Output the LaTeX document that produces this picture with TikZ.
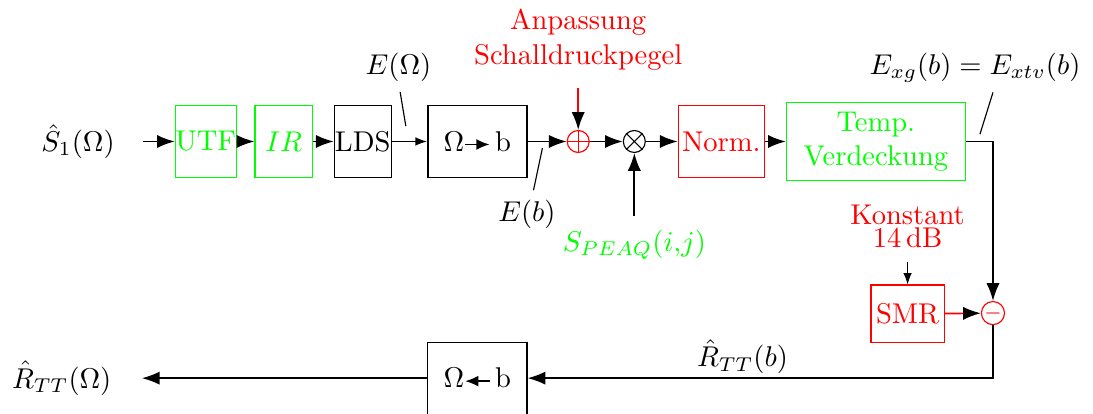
\documentclass[tikz,border=0pt]{standalone}
\usepackage{amsmath,amssymb}
\usetikzlibrary{positioning,calc,arrows.meta}

\newcommand{\fwdarrow}{\tikz[baseline=-0.55ex]\draw[-{Latex[length=4.6pt,width=3.8pt]}, semithick] (0,0) -- (0.3,0);}
\newcommand{\bwdarrow}{\tikz[baseline=-0.55ex]\draw[{Latex[length=4.6pt,width=3.8pt]}-, semithick] (0,0) -- (0.3,0);}

\begin{document}
\begin{tikzpicture}[
    blk/.style={draw, minimum height=0.886cm, align=center},
    gblk/.style={blk, green, text=green},
    rblk/.style={blk, red, text=red},
    sum/.style={draw, circle, minimum size=0.27cm, inner sep=0pt},
    arr/.style={semithick, -{Latex[color=black, length=6.2pt, width=4.6pt]}},
    sarr/.style={-{Latex[color=black, length=4pt, width=3pt]}},
    pinline/.style={thin}
]
    \useasboundingbox (0,0) rectangle (13.44,5.09);

    % Forward path
    \node (s1) at (0.96,3.35) {$\hat{S}_1(\Omega)$};
    \node[gblk, minimum width=0.70cm, inner sep=0pt] (utf) at (2.53,3.35) {UTF};
    \node[gblk, minimum width=0.71cm] (ir) at (3.49,3.35) {$IR$};
    \node[blk, minimum width=0.70cm, inner sep=0pt] (lds) at (4.46,3.35) {LDS};
    \node[blk, semithick, minimum width=1.22cm] (tob) at (5.87,3.35) {$\Omega$\fwdarrow\,b};
    \node[sum, red] (plus) at (7.11,3.35) {};
    \node[sum] (mult) at (7.80,3.35) {};
    \node[rblk, minimum width=1.06cm, inner sep=0pt] (norm) at (8.87,3.35) {Norm.};
    \node[gblk, minimum width=2.20cm] (temp) at (10.77,3.35) {Temp.\\Verdeckung};

    \draw[red] (plus.north) -- (plus.south) (plus.west) -- (plus.east);
    \draw (mult.north west) -- (mult.south east) (mult.north east) -- (mult.south west);

    % Inputs and labels
    \node[red, align=center] (anp) at (7.11,4.60) {Anpassung\\Schalldruckpegel};
    \node[green] (speaq) at (7.80,2.08) {$S_{PEAQ}(i{,}j)$};
    \node (eom) at (4.90,4.26) {$E(\Omega)$};
    \node (eb) at (6.48,2.45) {$E(b)$};
    \node (exg) at (11.99,4.26) {$E_{xg}(b) = E_{xtv}(b)$};

    % Return path
    \node[red, align=center] (konst) at (11.16,2.31) {Konstant\\[-4pt]14\,dB};
    \node[rblk, minimum width=0.90cm, minimum height=0.71cm, inner sep=0pt] (smr) at (11.16,1.23) {SMR};
    \node[draw, red, circle, minimum size=0.2cm, inner sep=0pt, font=\scriptsize] (minus) at (12.21,1.24) {$-$};
    \node[blk, minimum width=1.22cm] (back) at (5.87,0.44) {$\Omega$\bwdarrow\,b};
    \node (rtt) at (0.76,0.44) {$\hat{R}_{TT}(\Omega)$};
    \node (rttb) at (9.13,0.70) {$\hat{R}_{TT}(b)$};

    % Connectors
    \draw[arr, shorten <=0.22cm] (s1) -- (utf);
    \draw[arr] (utf) -- (ir);
    \draw[arr] (ir) -- (lds);
    \draw[sarr] (lds) -- (tob);
    \draw[arr] (tob) -- (plus);
    \draw[arr] (plus) -- (mult);
    \draw[arr] (mult) -- (norm);
    \draw[arr] (norm) -- (temp);
    \draw[arr, red, shorten <=0.1cm] (anp) -- (plus);
    \draw[arr, shorten <=0.05cm] (speaq) -- (mult);
    \draw[arr] (temp.east) -| (minus.north);
    \draw[sarr, shorten <=0.05cm] (konst) -- (smr);
    \draw[arr, red] (smr) -- (minus);
    \draw[arr] (minus.south) |- (back.east);
    \draw[arr, shorten >=0.25cm] (back) -- (rtt);

    % Label pins
    \coordinate (eomp) at (4.99,3.54);
    \coordinate (ebp) at (6.67,3.27);
    \coordinate (exgp) at (12.05,3.44);
    \draw[pinline] ($(eom.south)+(0.02,0)$) -- (eomp);
    \draw[pinline] ($(eb.north)+(0.08,0)$) -- (ebp);
    \draw[pinline] ($(exg.south)+(0.22,0)$) -- (exgp);
\end{tikzpicture}
\end{document}
